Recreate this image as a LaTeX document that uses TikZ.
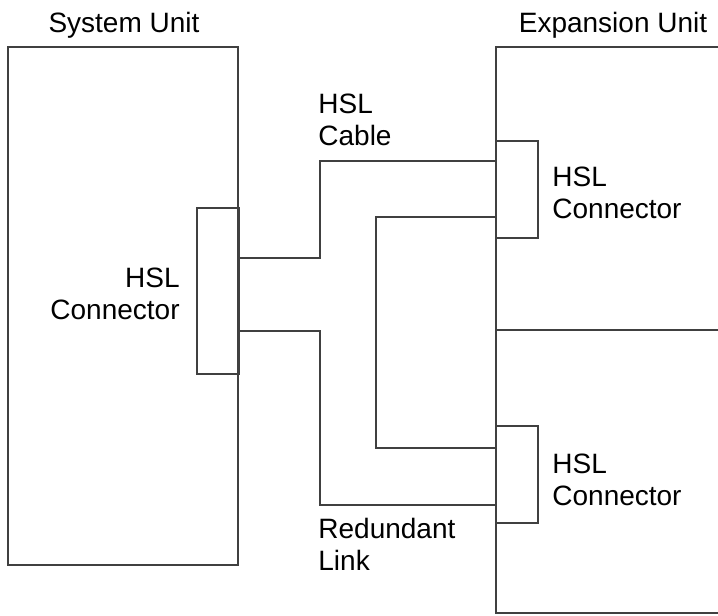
\documentclass[tikz,border=0pt]{standalone}
\usepackage{fontspec}
\setmainfont{Liberation Sans}
\usetikzlibrary{positioning}
\tikzset{
  unitbox/.style={
    rectangle,
    draw=black!75,
    line width=1pt,
    inner sep=0pt
  },
  hslplug/.style={unitbox, minimum width=21pt, minimum height=48.5pt},
  cable/.style={draw=black!75, line width=1pt},
  tag/.style={inner sep=0pt, align=left, font=\fontsize{14}{16}\selectfont}
}

\begin{document}
\begin{tikzpicture}[x=0.5pt, y=-0.5pt]
\useasboundingbox (0,0) rectangle (718,616);
% units
\node[unitbox, minimum width=115pt, minimum height=259pt] (sysunit) at (123,306) {};
\node[unitbox, minimum width=117pt, minimum height=283pt] (expunit) at (613,330) {};
% connectors
\node[hslplug, minimum height=83pt] (sysplug) at (218,291) {};
\node[hslplug] (expplugA) at (517,189.5) {};
\node[hslplug] (expplugB) at (517,474.5) {};
% labels
\node[tag, anchor=north] (syslbl) at (124,12) {System Unit};
\node[tag, anchor=north] (explbl) at (613,12) {Expansion Unit};
\node[tag, anchor=north east, align=right] (sysplugtxt) at (180,268) {HSL\\Connector};
\node[tag, anchor=north west] (expplugAtxt) at (552,167) {HSL\\Connector};
\node[tag, anchor=north west] (expplugBtxt) at (552,454) {HSL\\Connector};
\node[tag, anchor=north west] (cabletxt) at (318,94) {HSL\\Cable};
\node[tag, anchor=north west] (linktxt) at (318,518) {Redundant\\Link};
% cables
\draw[cable] (expunit.west) -- (expunit.east);
\draw[cable] ([yshift=16.5pt]sysplug.east) -- ++(40pt,0) |- ([yshift=14.25pt]expplugA.west);
\draw[cable] ([yshift=-20pt]sysplug.east) -- ++(40pt,0) |- ([yshift=-15.25pt]expplugB.west);
\draw[cable] ([yshift=-13.75pt]expplugA.west) -- ++(-59.5pt,0) |- ([yshift=13.25pt]expplugB.west);
\end{tikzpicture}
\end{document}
